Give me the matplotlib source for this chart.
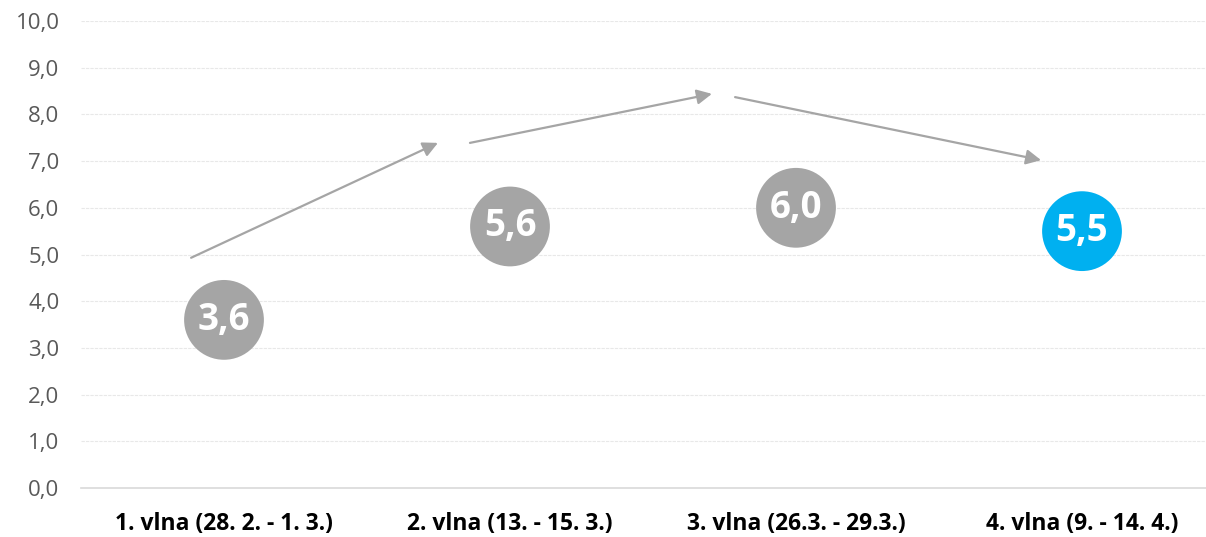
import matplotlib.pyplot as plt

plt.rcParams['font.family'] = ['Open Sans', 'DejaVu Sans']

# data
vlny = ["1. vlna (28. 2. - 1. 3.)", "2. vlna (13. - 15. 3.)",
        "3. vlna (26.3. - 29.3.)", "4. vlna (9. - 14. 4.)"]
hodnoty = [3.6, 5.6, 6.0, 5.5]
barvy = ["#A5A5A5", "#A5A5A5", "#A5A5A5", "#00B0F0"]
y_ticks = [0, 1, 2, 3, 4, 5, 6, 7, 8, 9, 10]

# trend arrows drawn above the bubbles (start x, start y, end x, end y)
sipky = [(-0.115, 4.93, 0.748, 7.39),
         (0.86, 7.39, 1.706, 8.44),
         (1.787, 8.37, 2.857, 7.02)]

fig = plt.figure(figsize=(12.06, 5.37), dpi=100)
ax = fig.add_axes([81/1206, 1-488/537, 1-81/1206, (488-21)/537])

x = list(range(len(vlny)))
ax.scatter(x, hodnoty, s=3300, c=barvy, zorder=3, linewidths=0)
for xi, v in zip(x, hodnoty):
    ax.text(xi, v, f"{v:.1f}".replace(".", ","), ha="center", va="center",
            color="white", fontsize=26.5, fontweight="bold", zorder=4)

for x0, y0, x1, y1 in sipky:
    ax.annotate("", xy=(x1, y1), xytext=(x0, y0),
                arrowprops=dict(arrowstyle="-|>,head_length=0.9,head_width=0.45",
                                color="#A5A5A5", lw=1.6, shrinkA=0, shrinkB=0))

ax.set_xlim(-0.5, (1206-224)/286)
ax.set_ylim(0, 10)
ax.set_yticks(y_ticks)
ax.set_yticklabels([f"{t:.1f}".replace(".", ",") for t in y_ticks],
                   color="#595959", fontsize=16)
ax.set_xticks(x)
ax.set_xticklabels(vlny, fontsize=16.5, fontweight="bold", color="black")
ax.tick_params(axis="y", length=0, pad=15.5)
ax.tick_params(axis="x", length=0, pad=17)

ax.grid(axis="y", color="#E8E8E8", linestyle=(0, (3, 1)), linewidth=0.8)
ax.set_axisbelow(True)
for s in ["top", "right", "left"]:
    ax.spines[s].set_visible(False)
ax.spines["bottom"].set_color("#D9D9D9")
ax.spines["bottom"].set_linewidth(1.2)

fig.savefig("out.png", dpi=100)
